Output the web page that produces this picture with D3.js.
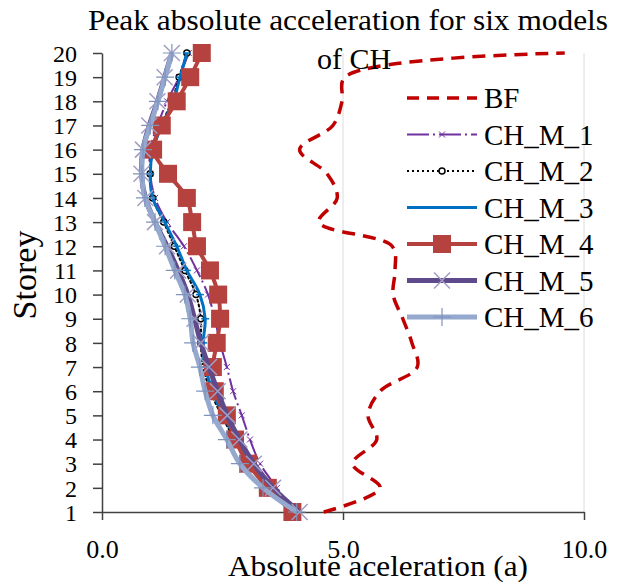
<!DOCTYPE html>
<html>
<head>
<meta charset="utf-8">
<script src="https://cdn.jsdelivr.net/npm/d3@7"></script>
<style>
  body { margin: 0; background: #fff; }
</style>
</head>
<body>
<svg width="622" height="584"></svg>
<script>
const storeys = d3.range(1, 21);

const bf  = [4.6, 5.77, 5.2, 5.7, 5.52, 5.77, 6.54, 6.43, 6.24, 6.04, 6.08, 6.02, 4.5, 4.88, 4.67, 4.1, 4.79, 4.98, 5.04, 9.6];
const m1  = [4.0, 3.63, 3.28, 3.07, 2.9, 2.72, 2.59, 2.45, 2.34, 2.2, 1.97, 1.7, 1.35, 1.1, 1.0, 1.0, 1.15, 1.35, 1.6, 1.8];
const m2  = [4.0, 3.45, 3.05, 2.75, 2.48, 2.25, 2.1, 2.05, 2.05, 1.95, 1.72, 1.5, 1.28, 1.05, 1.0, 1.05, 1.22, 1.45, 1.6, 1.76];
const m3  = [4.0, 3.49, 3.07, 2.8, 2.51, 2.3, 2.14, 2.1, 2.14, 2.03, 1.76, 1.55, 1.3, 1.05, 1.0, 1.06, 1.24, 1.48, 1.62, 1.76];
const m4  = [3.95, 3.44, 3.03, 2.76, 2.59, 2.34, 2.3, 2.38, 2.45, 2.41, 2.24, 1.97, 1.87, 1.76, 1.37, 1.06, 1.24, 1.55, 1.83, 2.07];
const m5  = [4.1, 3.55, 3.15, 2.85, 2.6, 2.4, 2.22, 2.05, 1.92, 1.78, 1.58, 1.35, 1.1, 0.9, 0.82, 0.85, 0.98, 1.15, 1.3, 1.45];
const m6  = [4.04, 3.34, 2.86, 2.59, 2.3, 2.14, 2.03, 1.89, 1.83, 1.72, 1.51, 1.31, 1.1, 0.89, 0.83, 0.85, 1.0, 1.16, 1.31, 1.45];

const xTicks = [0, 5, 10];

const series = [
  { name: 'BF',     values: bf, color: '#C00000', width: 3.5, dash: '13,8',      marker: 'none' },
  { name: 'CH_M_1', values: m1, color: '#7030A0', width: 2,   dash: '22,4,2,4',  marker: 'x' },
  { name: 'CH_M_2', values: m2, color: '#000000', width: 2,   dash: '2,3',       marker: 'circle' },
  { name: 'CH_M_3', values: m3, color: '#0070C0', width: 3,   dash: null,        marker: 'dash' },
  { name: 'CH_M_4', values: m4, color: '#B5423E', width: 4,   dash: null,        marker: 'square' },
  { name: 'CH_M_5', values: m5, color: '#5F4B8B', width: 5,   dash: null,        marker: 'bigx' },
  { name: 'CH_M_6', values: m6, color: '#95A8CE', width: 5,   dash: null,        marker: 'plus' }
];

const serif = "'Liberation Serif'";

const svg = d3.select('svg');

const x = d3.scaleLinear().domain([0, 10]).range([102, 584]);
const y = d3.scaleLinear().domain([1, 20]).range([512, 53]);

// grid
svg.append('g')
  .selectAll('line')
  .data([5, 10])
  .enter()
  .append('line')
  .attr('x1', d => x(d)).attr('x2', d => x(d))
  .attr('y1', y(20)).attr('y2', y(1))
  .style('stroke', '#dcdcdc')
  .style('stroke-width', 1);

// axes
const yAxis = svg.append('g')
  .attr('transform', `translate(${x(0)},0)`)
  .call(d3.axisLeft(y).tickValues(storeys).tickSize(9).tickSizeOuter(0).tickPadding(16));

const xAxis = svg.append('g')
  .attr('transform', `translate(0,${y(1)})`)
  .call(d3.axisBottom(x).tickValues(xTicks).tickSize(8).tickSizeOuter(0).tickFormat(d3.format('.1f')));

[yAxis, xAxis].forEach(a => {
  a.select('.domain').style('stroke', '#404040').style('stroke-width', 1.5);
  a.selectAll('.tick line').style('stroke', '#404040').style('stroke-width', 1.5);
  a.selectAll('text')
    .style('font-family', serif)
    .style('font-size', '26px')
    .style('fill', '#000');
});
yAxis.selectAll('text').attr('dy', '0.34em').style('font-size', '24px');
xAxis.selectAll('text').attr('y', 28);

function lineFor(s) {
  return d3.line()
    .x((d, i) => x(d))
    .y((d, i) => y(storeys[i]))
    .curve(d3.curveCatmullRom.alpha(0.5));
}

function drawMarker(g, type, color, cx, cy) {
  if (type === 'square') {
    g.append('rect').attr('x', cx - 9).attr('y', cy - 9).attr('width', 18).attr('height', 18)
      .style('fill', color);
  } else if (type === 'bigx') {
    g.append('path').attr('d', `M${cx - 8},${cy - 8}L${cx + 8},${cy + 8}M${cx - 8},${cy + 8}L${cx + 8},${cy - 8}`)
      .style('stroke', '#A29DC4').style('stroke-width', 1.5);
  } else if (type === 'plus') {
    g.append('path').attr('d', `M${cx - 9},${cy}L${cx + 9},${cy}M${cx},${cy - 9}L${cx},${cy + 9}`)
      .style('stroke', '#7F93BD').style('stroke-width', 1.2);
  } else if (type === 'x') {
    g.append('path').attr('d', `M${cx - 3},${cy - 3}L${cx + 3},${cy + 3}M${cx - 3},${cy + 3}L${cx + 3},${cy - 3}`)
      .style('stroke', color).style('stroke-width', 1);
  } else if (type === 'circle') {
    g.append('circle').attr('cx', cx).attr('cy', cy).attr('r', 3)
      .style('fill', '#fff').style('stroke', color).style('stroke-width', 1.5);
  } else if (type === 'dash') {
    g.append('path').attr('d', `M${cx - 4},${cy}L${cx + 4},${cy}`)
      .style('stroke', color).style('stroke-width', 1.5);
  }
}

// series
series.forEach(s => {
  const g = svg.append('g').attr('class', 'series');
  g.append('path')
    .attr('d', lineFor(s)(s.values))
    .style('fill', 'none')
    .style('stroke', s.color)
    .style('stroke-width', s.width)
    .style('stroke-dasharray', s.dash)
    .style('stroke-linecap', s.dash === '2,3' ? 'round' : 'butt');
  s.values.forEach((v, i) => drawMarker(g, s.marker, s.color, x(v), y(storeys[i])));
});

// legend
const legend = svg.append('g');
series.forEach((s, i) => {
  const ly = 98 + i * 36.5;
  const g = legend.append('g');
  g.append('line')
    .attr('x1', 407).attr('x2', 477).attr('y1', ly).attr('y2', ly)
    .style('stroke', s.color)
    .style('stroke-width', s.width)
    .style('stroke-dasharray', s.name === 'BF' ? '12,8' : s.dash);
  drawMarker(g, s.marker, s.color, 442, ly);
  g.append('text')
    .attr('x', 484).attr('y', ly + 10)
    .style('font-family', serif)
    .style('font-size', '29px')
    .text(s.name);
});

// titles
svg.append('text')
  .attr('x', 348).attr('y', 30)
  .attr('text-anchor', 'middle')
  .attr('textLength', 520).attr('lengthAdjust', 'spacingAndGlyphs')
  .style('font-family', serif)
  .style('font-size', '30px')
  .text('Peak absolute acceleration for six models');

svg.append('text')
  .attr('x', 354).attr('y', 69)
  .attr('text-anchor', 'middle')
  .style('font-family', serif)
  .style('font-size', '30px')
  .text('of CH');

svg.append('text')
  .attr('x', 378).attr('y', 576)
  .attr('text-anchor', 'middle')
  .attr('textLength', 300).attr('lengthAdjust', 'spacingAndGlyphs')
  .style('font-family', serif)
  .style('font-size', '30px')
  .text('Absolute aceleration (a)');

svg.append('text')
  .attr('transform', 'translate(36,275) rotate(-90)')
  .attr('text-anchor', 'middle')
  .style('font-family', serif)
  .style('font-size', '34px')
  .text('Storey');
</script>
</body>
</html>
